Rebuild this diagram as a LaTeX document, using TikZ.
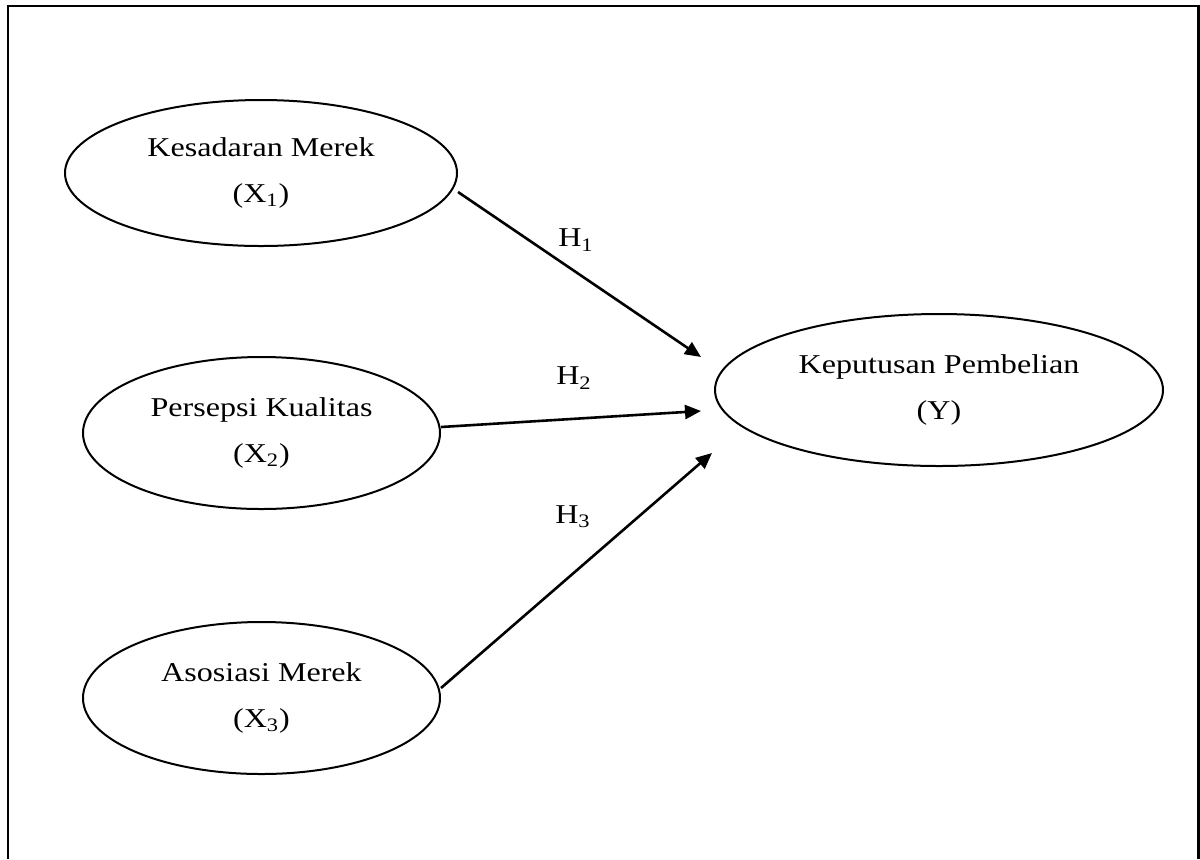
\documentclass[tikz,border=0pt]{standalone}
\usepackage{fontspec}
\setmainfont{Liberation Serif}[FakeStretch=1.18]
\usetikzlibrary{shapes.geometric,arrows.meta,positioning,calc}

\begin{document}
\begin{tikzpicture}[x=0.5pt, y=-0.5pt,
  varellipse/.style={draw, ellipse, line width=1pt, inner sep=0pt, align=center,
    font=\fontsize{13.6}{22.8}\selectfont},
  hypoarrow/.style={-{Triangle[length=8pt,width=7pt]}, line width=1.3pt},
  hlabel/.style={font=\fontsize{13.6}{15}\selectfont}]
  \useasboundingbox (0,0) rectangle (1200,859);

  % Frame (open at the bottom)
  \draw[line width=1.2pt] (8,859) -- (8,6) -- (1198.5,6) -- (1198.5,859);

  % Independent variables
  \node[varellipse, minimum width=196pt, minimum height=73pt] (kesadaran) at (261,173)
    {Kesadaran Merek\\(X\textsubscript{1})};
  \node[varellipse, minimum width=178.5pt, minimum height=76pt] (persepsi) at (261.5,433)
    {Persepsi Kualitas\\(X\textsubscript{2})};
  \node[varellipse, minimum width=178.5pt, minimum height=76pt] (asosiasi) at (261.5,698)
    {Asosiasi Merek\\(X\textsubscript{3})};

  % Dependent variable
  \node[varellipse, minimum width=224pt, minimum height=76pt] (keputusan) at (939,390)
    {Keputusan Pembelian\\(Y)};

  % Hypotheses
  \draw[hypoarrow] ([shift={(0,19)}]kesadaran.east) -- ([shift={(-13,-33)}]keputusan.west);
  \draw[hypoarrow] ([shift={(0,-6)}]persepsi.east) -- ([shift={(-13,21)}]keputusan.west);
  \draw[hypoarrow] ([shift={(0,-10)}]asosiasi.east) -- ([shift={(-2,63)}]keputusan.west);

  \node[hlabel] (h1) at (576,240) {H\textsubscript{1}};
  \node[hlabel] (h2) at (574,378) {H\textsubscript{2}};
  \node[hlabel] (h3) at (573,517) {H\textsubscript{3}};
\end{tikzpicture}
\end{document}
